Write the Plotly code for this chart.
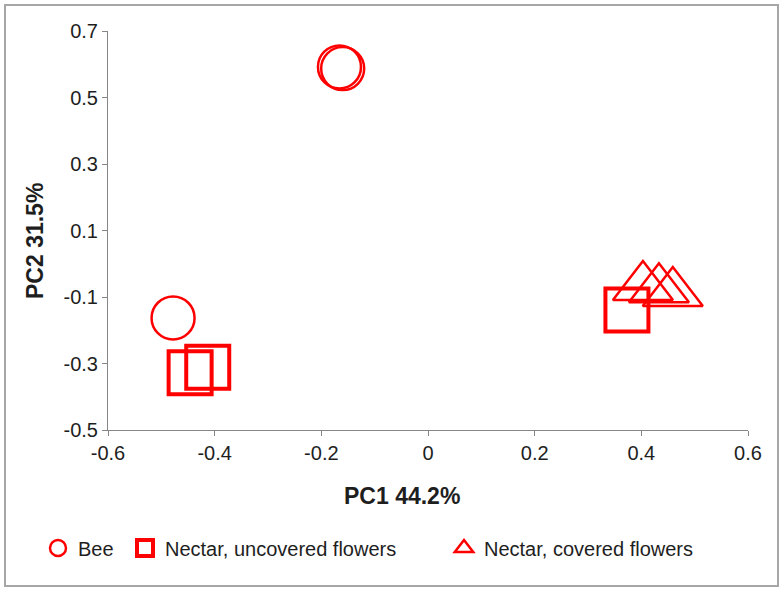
import plotly.graph_objects as go

# ---- data ----
bee_x = [-0.166, -0.160, -0.478]
bee_y = [0.592, 0.587, -0.163]

unc_x = [-0.446, -0.413, 0.373]
unc_y = [-0.328, -0.311, -0.139]

cov_x = [0.403, 0.433, 0.459]
cov_y = [-0.070, -0.077, -0.088]

x_ticks = [-0.6, -0.4, -0.2, 0, 0.2, 0.4, 0.6]
x_ticktext = ["-0.6", "-0.4", "-0.2", "0", "0.2", "0.4", "0.6"]
y_ticks = [-0.5, -0.3, -0.1, 0.1, 0.3, 0.5, 0.7]
y_ticktext = ["-0.5", "-0.3", "-0.1", "0.1", "0.3", "0.5", "0.7"]

RED = "#FF0000"
FONT = "Arial, Liberation Sans, sans-serif"
TXT = "#1e1e1e"
AX = "#868686"

fig = go.Figure()
fig.add_trace(go.Scatter(
    x=bee_x, y=bee_y, mode="markers", name="Bee", legend="legend",
    marker=dict(symbol="circle-open", size=43, color=RED, line=dict(width=2.5, color=RED)),
))
fig.add_trace(go.Scatter(
    x=unc_x, y=unc_y, mode="markers", name="Nectar, uncovered flowers", legend="legend2",
    marker=dict(symbol="square-open", size=43, color=RED, line=dict(width=4, color=RED)),
))
fig.add_trace(go.Scatter(
    x=cov_x, y=cov_y, mode="markers", name="Nectar, covered flowers", legend="legend3",
    marker=dict(symbol="triangle-up-open", size=52, color=RED, line=dict(width=2.5, color=RED)),
))

W, H = 784, 593
L, R, T, B = 108, 36, 31, 163
pw, ph = W - L - R, H - T - B

def px(xp):
    return (xp - L) / pw

def py(yp):
    return (H - B - yp) / ph

leg_common = dict(orientation="h", yanchor="middle", y=py(548), xanchor="left",
                  font=dict(family=FONT, size=20, color=TXT), bgcolor="rgba(0,0,0,0)",
                  itemsizing="trace")

fig.update_layout(
    width=W, height=H,
    margin=dict(l=L, r=R, t=T, b=B),
    paper_bgcolor="white", plot_bgcolor="white",
    showlegend=True,
    legend=dict(leg_common, x=px(38)),
    legend2=dict(leg_common, x=px(125)),
    legend3=dict(leg_common, x=px(444)),
    xaxis=dict(range=[-0.6, 0.6], tickvals=x_ticks, ticktext=x_ticktext,
               showgrid=False, zeroline=False, showline=True, linecolor=AX, linewidth=1,
               ticks="outside", ticklen=5, tickcolor=AX, tickwidth=1,
               tickfont=dict(family=FONT, size=20, color=TXT)),
    yaxis=dict(range=[-0.5, 0.7], tickvals=y_ticks, ticktext=y_ticktext,
               showgrid=False, zeroline=False, showline=True, linecolor=AX, linewidth=1,
               ticks="outside", ticklen=5, tickcolor=AX, tickwidth=1,
               tickfont=dict(family=FONT, size=20, color=TXT)),
    annotations=[
        dict(text="<b>PC1 44.2%</b>", xref="paper", yref="paper", x=px(402), y=py(496),
             showarrow=False, xanchor="center", yanchor="middle",
             font=dict(family=FONT, size=23, color=TXT)),
        dict(text="<b>PC2 31.5%</b>", xref="paper", yref="paper", x=px(35), y=py(241),
             showarrow=False, xanchor="center", yanchor="middle", textangle=-90,
             font=dict(family=FONT, size=23, color=TXT)),
    ],
    shapes=[
        dict(type="rect", xref="paper", yref="paper", x0=px(5), x1=px(778), y0=py(586), y1=py(5),
             line=dict(color="#A6A6A6", width=2), fillcolor="rgba(0,0,0,0)", layer="below"),
    ],
)

fig.write_html("out.html", config={"displayModeBar": False},
               post_script="document.body.style.margin='0';")
